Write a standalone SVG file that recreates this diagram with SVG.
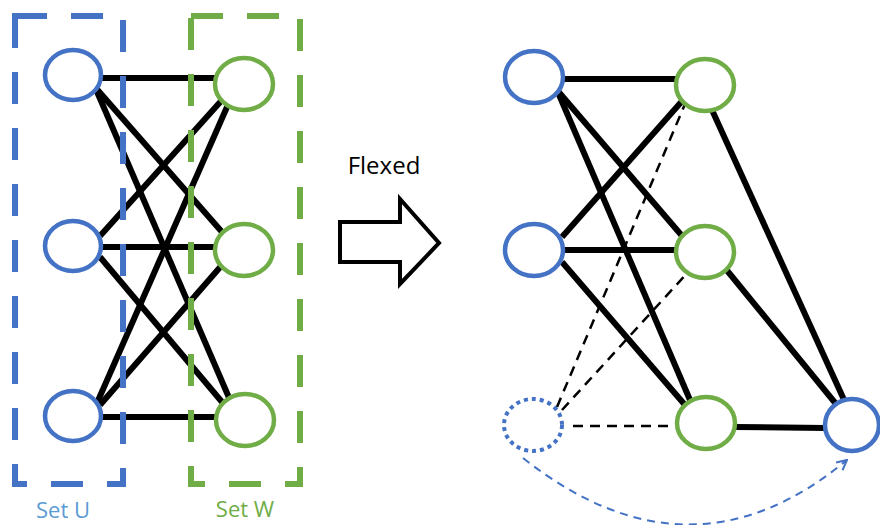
<svg xmlns="http://www.w3.org/2000/svg" width="880" height="525" viewBox="0 0 880 525">
<style>
.e{stroke:#000;stroke-width:6;fill:none}
.d{stroke:#000;stroke-width:2.5;fill:none;stroke-dasharray:10 7}
.u{fill:#fff;stroke:#4472C4;stroke-width:4.5}
.w{fill:#fff;stroke:#70AD47;stroke-width:4.5}
.t{font-family:"Open Sans","Noto Sans",sans-serif}
</style>
<defs>
<marker id="ah" viewBox="0 0 12 12" refX="11" refY="6" markerWidth="12" markerHeight="12" markerUnits="userSpaceOnUse" orient="auto">
<path d="M1 1 L11 6 L1 11" fill="none" stroke="#4472C4" stroke-width="2"/>
</marker>
</defs>
<g id="connectors">
<line class="e" x1="100" y1="78" x2="216" y2="78"/>
<line class="e" x1="95" y1="87" x2="222" y2="232"/>
<line class="e" x1="95" y1="87" x2="230" y2="400"/>
<line class="e" x1="100" y1="236" x2="222" y2="100"/>
<line class="e" x1="100" y1="247" x2="216" y2="247"/>
<line class="e" x1="100" y1="257" x2="222" y2="402"/>
<line class="e" x1="97" y1="403" x2="227" y2="107"/>
<line class="e" x1="100" y1="405" x2="222" y2="265"/>
<line class="e" x1="100" y1="417" x2="216" y2="417"/>
<line class="e" x1="563" y1="79" x2="676" y2="79"/>
<line class="e" x1="557" y1="90" x2="683" y2="237"/>
<line class="e" x1="557" y1="90" x2="690" y2="400"/>
<line class="e" x1="562" y1="237" x2="683" y2="100"/>
<line class="e" x1="563" y1="250" x2="676" y2="250"/>
<line class="e" x1="562" y1="262" x2="685" y2="405"/>
<line class="e" x1="712" y1="110" x2="845" y2="402"/>
<line class="e" x1="725" y1="268" x2="836" y2="404"/>
<line class="e" x1="736" y1="427" x2="826" y2="428"/>
<line class="d" x1="557" y1="407" x2="685" y2="104"/>
<line class="d" x1="562" y1="410" x2="690" y2="270"/>
<line class="d" x1="573" y1="426" x2="675" y2="426"/>
<path d="M523 458 Q690 590 847 460" fill="none" stroke="#4472C4" stroke-width="2" stroke-dasharray="8 6" marker-end="url(#ah)"/>
</g>
<g id="setU">
<rect x="15" y="16" width="108" height="468" fill="none" stroke="#4472C4" stroke-width="6" stroke-dasharray="32 24"/>
</g>
<g id="setW">
<rect x="191" y="16" width="109" height="468" fill="none" stroke="#70AD47" stroke-width="6" stroke-dasharray="32 24"/>
</g>
<g id="u1"><ellipse class="u" cx="73" cy="75" rx="28" ry="25"/></g>
<g id="u2"><ellipse class="u" cx="73" cy="246" rx="28" ry="25"/></g>
<g id="u3"><ellipse class="u" cx="73" cy="416" rx="28" ry="25"/></g>
<g id="w1"><ellipse class="w" cx="244" cy="84" rx="29" ry="26"/></g>
<g id="w2"><ellipse class="w" cx="244" cy="250" rx="29" ry="26"/></g>
<g id="w3"><ellipse class="w" cx="245" cy="420" rx="29" ry="26"/></g>
<g id="ru1"><ellipse class="u" cx="534" cy="77" rx="29" ry="26"/></g>
<g id="ru2"><ellipse class="u" cx="534" cy="250" rx="29" ry="26"/></g>
<g id="rw1"><ellipse class="w" cx="705" cy="85" rx="29" ry="26"/></g>
<g id="rw2"><ellipse class="w" cx="705" cy="252" rx="29" ry="26"/></g>
<g id="rw3"><ellipse class="w" cx="706" cy="423" rx="29" ry="26"/></g>
<g id="rblue"><ellipse class="u" cx="852" cy="425" rx="27" ry="26"/></g>
<g id="dotted"><ellipse cx="533" cy="425" rx="29" ry="26" fill="#fff" stroke="#4472C4" stroke-width="4" stroke-dasharray="4 4"/></g>
<g id="arrow"><path d="M340 222 H400 V199 L439 243 L400 284 V262 H340 Z" fill="#fff" stroke="#000" stroke-width="4"/></g>
<g id="labels">
<text class="t" x="384" y="174" font-size="24" text-anchor="middle" fill="#000">Flexed</text>
<text class="t" x="63" y="518" font-size="22" text-anchor="middle" fill="#5B9BD5">Set U</text>
<text class="t" x="245" y="517" font-size="22" text-anchor="middle" fill="#70AD47">Set W</text>
</g>
</svg>
